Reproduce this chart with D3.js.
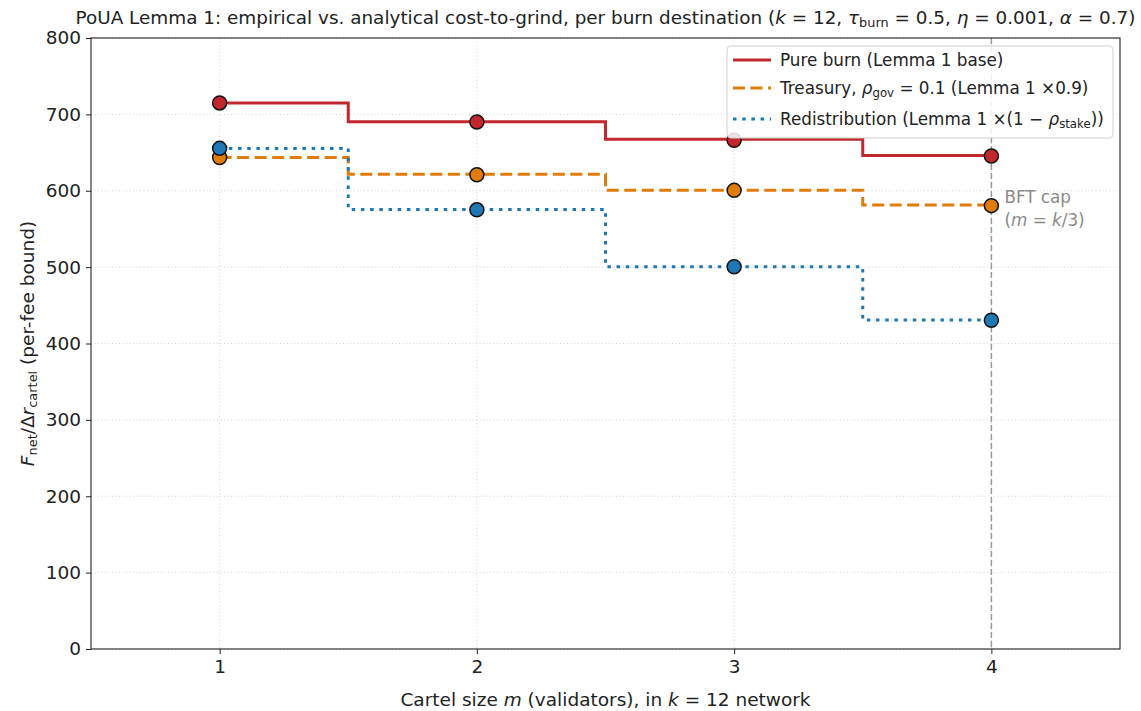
<!DOCTYPE html>
<html><head><meta charset="utf-8">
<script src="https://cdn.jsdelivr.net/npm/d3@7"></script>
<style>
html,body{margin:0;padding:0;background:#fff;}
svg text{font-family:"DejaVu Sans",sans-serif;fill:#222;}
</style></head>
<body><svg id="chart" width="1141" height="711"></svg>
<script>
// ---- data ----
const cartelSizes = [1, 2, 3, 4];
const pureBurnAnalytical = [715, 690.5, 667.5, 646];
const treasuryAnalytical = [643.5, 621.5, 600.5, 581.4];
const redistAnalytical   = [655.4, 575.4, 500.6, 430.7];
const pureBurnEmpirical  = [715, 690, 666, 645.5];
const treasuryEmpirical  = [643.5, 621, 600.5, 580.5];
const redistEmpirical    = [655.5, 575, 500.5, 430.5];
const yTicks = [0, 100, 200, 300, 400, 500, 600, 700, 800];
const xTicks = [1, 2, 3, 4];
const bftCap = 4;

const series = [
  {name:"pure", color:"#c1272d", dash:null, analytical:pureBurnAnalytical, empirical:pureBurnEmpirical},
  {name:"treasury", color:"#df7c0a", dash:"12,5.5", analytical:treasuryAnalytical, empirical:treasuryEmpirical},
  {name:"redist", color:"#1f77b4", dash:"3.5,5.7", analytical:redistAnalytical, empirical:redistEmpirical}
];

const svg = d3.select("#chart");
const L = 91, R = 1120, T = 38, B = 649;
const x = d3.scaleLinear().domain([0.5, 4.5]).range([L, R]);
const y = d3.scaleLinear().domain([0, 800]).range([B, T]);

// grid
const grid = svg.append("g");
grid.selectAll(".gy").data(yTicks).enter().append("line")
  .attr("x1", L).attr("x2", R).attr("y1", d=>y(d)).attr("y2", d=>y(d))
  .attr("stroke", "#c8c8c8").attr("stroke-width", 0.8).attr("stroke-dasharray", "1,2.5");
grid.selectAll(".gx").data(xTicks).enter().append("line")
  .attr("y1", T).attr("y2", B).attr("x1", d=>x(d)).attr("x2", d=>x(d))
  .attr("stroke", "#c8c8c8").attr("stroke-width", 0.8).attr("stroke-dasharray", "1,2.5");

// BFT cap line
svg.append("line").attr("x1", x(bftCap)).attr("x2", x(bftCap)).attr("y1", T).attr("y2", B)
  .attr("stroke", "#9a9a9a").attr("stroke-width", 1.5).attr("stroke-dasharray", "6,3");

// lines
const line = d3.line().x((d,i)=>x(cartelSizes[i])).y(d=>y(d)).curve(d3.curveStep);
series.forEach(s => {
  svg.append("path").attr("d", line(s.analytical)).attr("fill","none")
    .attr("stroke", s.color).attr("stroke-width", 3)
    .attr("stroke-dasharray", s.dash);
});
// markers
series.forEach(s => {
  svg.append("g").selectAll("circle").data(s.empirical).enter().append("circle")
    .attr("cx", (d,i)=>x(cartelSizes[i])).attr("cy", d=>y(d)).attr("r", 7)
    .attr("fill", s.color).attr("stroke", "#111").attr("stroke-width", 1.5);
});

// BFT text
svg.append("text").attr("x", x(bftCap)+13).attr("y", 203)
  .style("fill","#8a8a8a").style("font-size","16.8px").text("BFT cap");
const bt2 = svg.append("text").attr("x", x(bftCap)+13).attr("y", 226)
  .style("fill","#8a8a8a").style("font-size","16.8px");
bt2.append("tspan").text("(");
bt2.append("tspan").style("font-style","italic").style("fill","#8a8a8a").text("m");
bt2.append("tspan").text(" = ");
bt2.append("tspan").style("font-style","italic").style("fill","#8a8a8a").text("k");
bt2.append("tspan").text("/3)");

// axes
const ya = svg.append("g").attr("transform", `translate(${L},0)`)
  .call(d3.axisLeft(y).tickValues(yTicks).tickSize(5).tickPadding(5).tickFormat(d3.format("d")));
const xa = svg.append("g").attr("transform", `translate(0,${B})`)
  .call(d3.axisBottom(x).tickValues(xTicks).tickSize(5).tickPadding(6).tickFormat(d3.format("d")));
[ya, xa].forEach(a => {
  a.select(".domain").remove();
  a.selectAll("text").style("font-size","18.5px").style("font-family","DejaVu Sans").attr("fill","#222");
  a.selectAll("line").attr("stroke","#222");
});
// frame
svg.append("rect").attr("x", L).attr("y", T).attr("width", R-L).attr("height", B-T)
  .attr("fill","none").attr("stroke","#222").attr("stroke-width",1.1);

// title
const title = svg.append("text").attr("x", (L+R)/2).attr("y", 24).attr("text-anchor","middle")
  .style("font-size","18.4px");
function addParts(t, parts) {
  parts.forEach(p => {
    const ts = t.append("tspan").text(p.t);
    if (p.i) ts.style("font-style","italic");
    if (p.sub) ts.attr("baseline-shift","-25%").style("font-size","70%");
  });
}
addParts(title, [
  {t:"PoUA Lemma 1: empirical vs. analytical cost-to-grind, per burn destination ("},
  {t:"k", i:1}, {t:" = 12, "}, {t:"τ", i:1}, {t:"burn", sub:1}, {t:" = 0.5, "},
  {t:"η", i:1}, {t:" = 0.001, "}, {t:"α", i:1}, {t:" = 0.7)"}
]);

// x label
const xl = svg.append("text").attr("x", (L+R)/2).attr("y", 706).attr("text-anchor","middle")
  .style("font-size","18.5px");
addParts(xl, [{t:"Cartel size "}, {t:"m", i:1}, {t:" (validators), in "}, {t:"k", i:1}, {t:" = 12 network"}]);

// y label
const yl = svg.append("text").attr("transform", `translate(34,${(T+B)/2}) rotate(-90)`)
  .attr("text-anchor","middle").style("font-size","18.5px");
addParts(yl, [{t:"F", i:1}, {t:"net", sub:1}, {t:"/Δ"}, {t:"r", i:1}, {t:"cartel", sub:1}, {t:" (per-fee bound)"}]);

// legend
const lg = svg.append("g");
lg.append("rect").attr("x", 727).attr("y", 46).attr("width", 386).attr("height", 92).attr("rx", 4)
  .attr("fill", "rgba(255,255,255,0.85)").attr("stroke", "#d0d0d0").attr("stroke-width", 1);
const legendLabels = [
  [{t:"Pure burn (Lemma 1 base)"}],
  [{t:"Treasury, "}, {t:"ρ", i:1}, {t:"gov", sub:1}, {t:" = 0.1 (Lemma 1 ×0.9)"}],
  [{t:"Redistribution (Lemma 1 ×(1 − "}, {t:"ρ", i:1}, {t:"stake", sub:1}, {t:"))"}]
];
const legendY = [60, 88, 119];
series.forEach((s, i) => {
  lg.append("line").attr("x1", 733).attr("x2", 771).attr("y1", legendY[i]).attr("y2", legendY[i])
    .attr("stroke", s.color).attr("stroke-width", 3).attr("stroke-dasharray", s.dash);
  const t = lg.append("text").attr("x", 780).attr("y", legendY[i] + 6).style("font-size","16.8px");
  addParts(t, legendLabels[i]);
});
</script></body></html>
